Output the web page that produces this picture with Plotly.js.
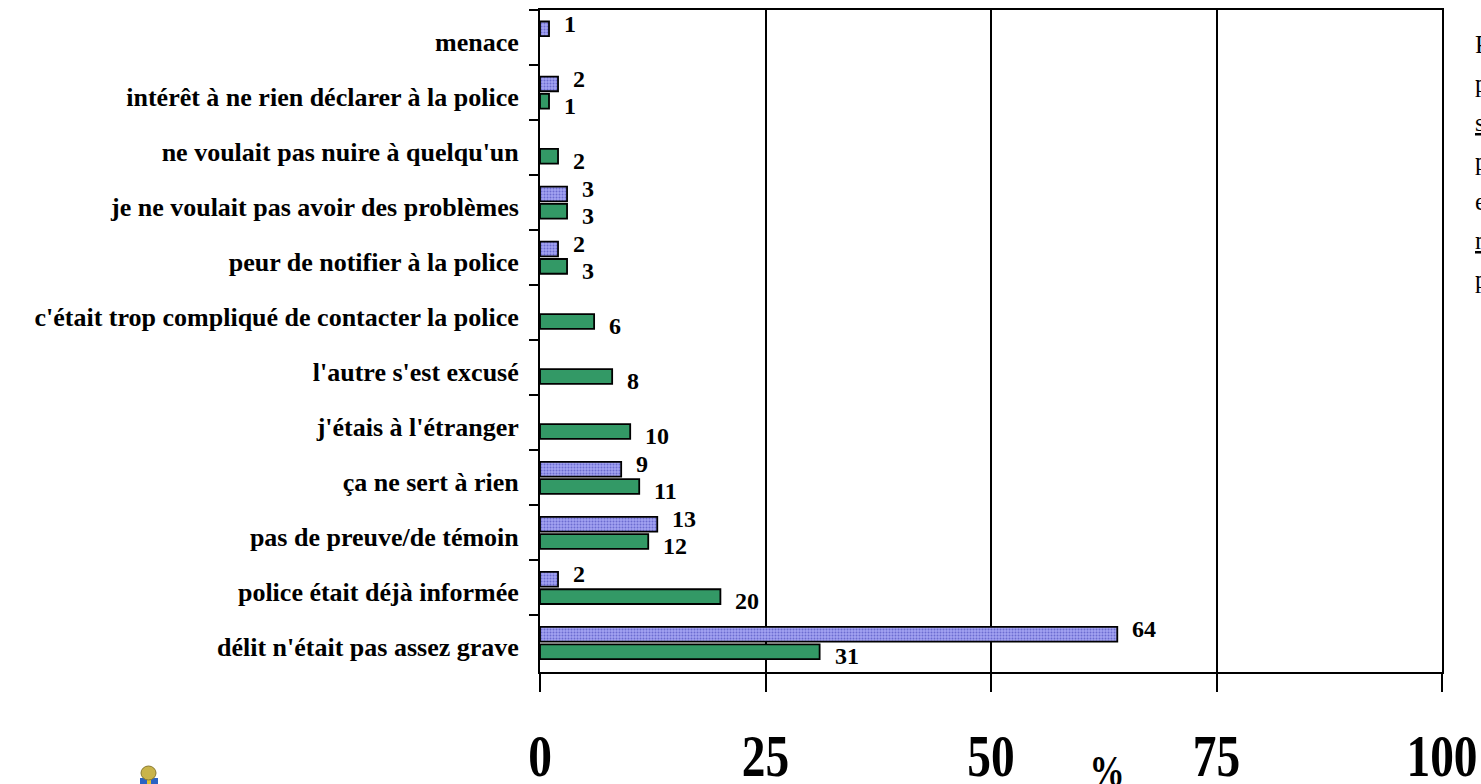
<!DOCTYPE html>
<html>
<head>
<meta charset="utf-8">
<script src="https://cdn.plot.ly/plotly-3.0.1.min.js"></script>
<style>
html,body{margin:0;padding:0;overflow:hidden;background:#fff;}
#chart{width:1481px;height:784px;}
</style>
</head>
<body>
<div id="chart"></div>
<script>
// ---- data ----
const categories = [
  "menace",
  "intérêt à ne rien déclarer à la police",
  "ne voulait pas nuire à quelqu'un",
  "je ne voulait pas avoir des problèmes",
  "peur de notifier à la police",
  "c'était trop compliqué de contacter la police",
  "l'autre s'est excusé",
  "j'étais à l'étranger",
  "ça ne sert à rien",
  "pas de preuve/de témoin",
  "police était déjà informée",
  "délit n'était pas assez grave"
];
const seriesBlue  = [1, 2, null, 3, 2, null, null, null, 9, 13, 2, 64];
const seriesGreen = [null, 1, 2, 3, 3, 6, 8, 10, 11, 12, 20, 31];
const xTickVals = [0, 25, 50, 75, 100];
const xTickText = ["0", "25", "50", "75", "100"];
const sideText = ["Raisons", "pour", "sans", "plainte", "et", "non", "plainte"];
const sideUnderline = [false, false, true, true, false, true, true];

const SERIF = "Liberation Serif, Times New Roman, serif";

const traceBlue = {
  type: "bar", orientation: "h", name: "A",
  y: categories, x: seriesBlue,
  marker: {
    color: "#9e9ef0",
    line: {color: "#000", width: 1.8},
    pattern: {shape: ".", bgcolor: "#a4a4f2", fgcolor: "#6c6cd0", size: 3, solidity: 0.35}
  },
  hoverinfo: "skip"
};
const traceGreen = {
  type: "bar", orientation: "h", name: "B",
  y: categories, x: seriesGreen,
  marker: {color: "#339966", line: {color: "#000", width: 1.8}},
  hoverinfo: "skip"
};

const annotations = [];
function addLabels(vals, yshift) {
  vals.forEach((v, i) => {
    if (v === null) return;
    annotations.push({
      x: v, y: categories[i], xref: "x", yref: "y",
      text: String(v), showarrow: false,
      xanchor: "left", yanchor: "middle", xshift: 13, yshift: yshift,
      font: {family: SERIF, size: 24, color: "#000", weight: "bold"}
    });
  });
}
addLabels(seriesBlue, 14);
addLabels(seriesGreen, -13);

// "%" axis label
annotations.push({
  x: 0.6286, y: -0.151, xref: "paper", yref: "paper",
  text: "<b>%</b>", showarrow: false, xanchor: "center", yanchor: "middle",
  font: {family: SERIF, size: 44, color: "#000"}
});

// side text (clipped by page edge)
sideText.forEach((t, i) => {
  const py = 45 + 39 * i;
  annotations.push({
    x: (1473 - 540) / 902, y: 1 - (py - 10) / 662, xref: "paper", yref: "paper",
    text: sideUnderline[i] ? "<u>" + t + "</u>" : t,
    showarrow: false, xanchor: "left", yanchor: "middle",
    font: {family: SERIF, size: 25, color: "#000"}
  });
});

function px2x(px) { return (px - 540) / 902; }
function py2y(py) { return 1 - (py - 10) / 662; }

const shapes = [
  {type: "rect", xref: "paper", yref: "paper", x0: px2x(140), x1: px2x(158), y0: py2y(784), y1: py2y(778),
   fillcolor: "#2a63c4", line: {width: 0}},
  {type: "rect", xref: "paper", yref: "paper", x0: px2x(147), x1: px2x(151), y0: py2y(784), y1: py2y(778),
   fillcolor: "#e0c030", line: {width: 0}},
  {type: "circle", xref: "paper", yref: "paper", x0: px2x(141), x1: px2x(156), y0: py2y(780), y1: py2y(766),
   fillcolor: "#c9b44a", line: {color: "#8a7a30", width: 1}}
];

const layout = {
  width: 1481, height: 784,
  margin: {l: 540, r: 39, t: 10, b: 112, pad: 0},
  paper_bgcolor: "#fff", plot_bgcolor: "#fff",
  showlegend: false,
  barmode: "group", bargap: 0.37, bargroupgap: 0.15,
  xaxis: {
    range: [0, 100], tickvals: xTickVals, ticktext: xTickText,
    showgrid: true, gridcolor: "#000", gridwidth: 2,
    zeroline: false,
    showline: true, linecolor: "#000", linewidth: 2, mirror: true,
    ticks: "outside", ticklen: 18, tickwidth: 2, tickcolor: "#000",
    ticklabelstandoff: 12, ticklabeloverflow: "allow",
    tickfont: {family: SERIF, size: 60, color: "#000", weight: "bold"},
    fixedrange: true
  },
  yaxis: {
    type: "category", autorange: "reversed",
    showgrid: false, zeroline: false,
    showline: true, linecolor: "#000", linewidth: 2, mirror: true,
    ticks: "outside", ticklen: 9, tickwidth: 2, tickcolor: "#000",
    tickson: "boundaries",
    ticklabelstandoff: 14, ticklabelshift: -4,
    tickfont: {family: SERIF, size: 26, color: "#000", weight: "bold"},
    fixedrange: true
  },
  annotations: annotations,
  shapes: shapes
};

function squeeze() {
  document.querySelectorAll("#chart .xtick text").forEach(t => {
    const w = t.getComputedTextLength();
    t.setAttribute("textLength", (w * 0.79).toFixed(1));
    t.setAttribute("lengthAdjust", "spacingAndGlyphs");
  });
  document.querySelectorAll("#chart .annotation-text").forEach(t => {
    if (t.textContent === "%") {
      const w = t.getComputedTextLength();
      t.setAttribute("textLength", (w * 0.8).toFixed(1));
      t.setAttribute("lengthAdjust", "spacingAndGlyphs");
    }
  });
}

Plotly.newPlot("chart", [traceBlue, traceGreen], layout, {staticPlot: true, displayModeBar: false})
  .then(squeeze);
</script>
</body>
</html>
